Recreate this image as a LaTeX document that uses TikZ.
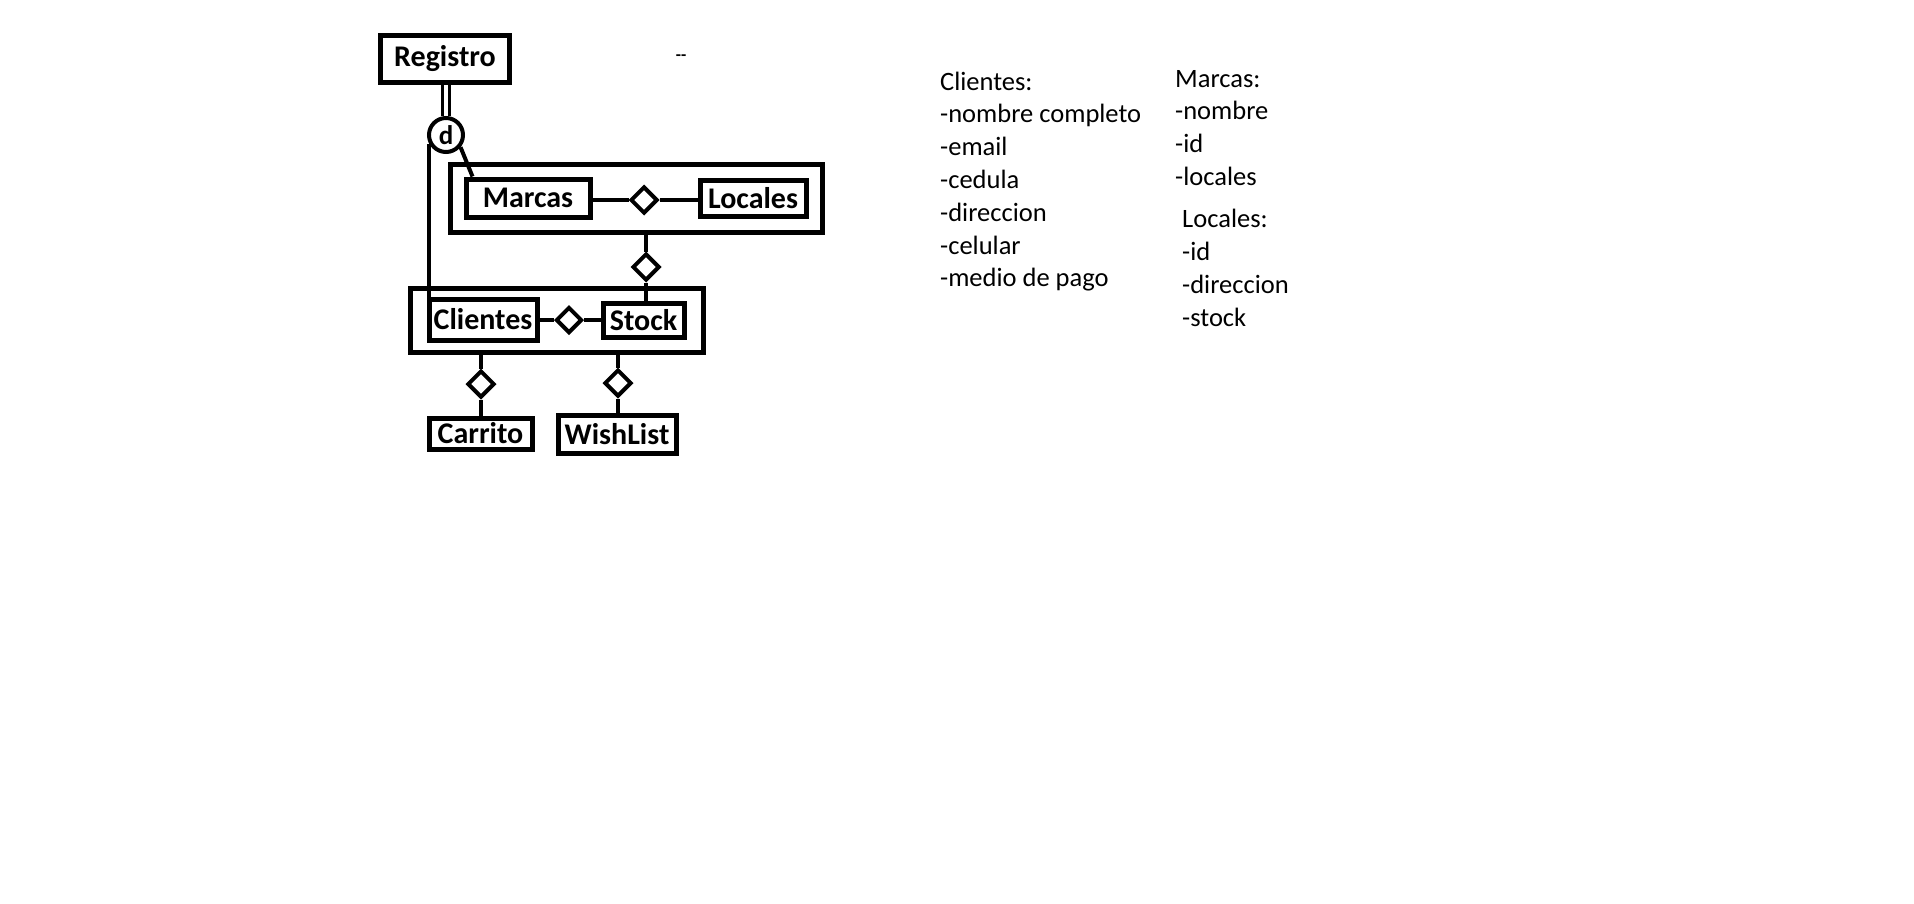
\documentclass[tikz,border=0pt]{standalone}
\usepackage{fontspec}
\setmainfont{Carlito}
\usetikzlibrary{shapes.geometric,calc}
\pgfdeclarelayer{bg}
\pgfdeclarelayer{paper}
\pgfsetlayers{paper,bg,main}
\begin{document}
\begin{tikzpicture}[x=1pt,y=-1pt,
 ent/.style={draw,line width=5pt,inner sep=0pt,font=\fontsize{30}{33}\selectfont\bfseries},
 agg/.style={draw,line width=5pt,inner sep=0pt},
 rel/.style={draw,diamond,line width=4pt,inner sep=0pt,minimum width=27pt,minimum height=27pt,fill=white},
 conn/.style={line width=4pt},
 attr/.style={anchor=base west,inner sep=0pt,font=\fontsize{26.5}{33}\selectfont}]
\useasboundingbox (0,0) rectangle (1914,903);
\begin{pgfonlayer}{paper}
\fill[white] (0,0) rectangle (1914,903);
\end{pgfonlayer}
\node[ent,minimum width=129pt,minimum height=47pt] (reg) at (445,59) {Registro};
\node[draw,circle,line width=4pt,minimum size=34pt,inner sep=0pt,font=\fontsize{27}{30}\selectfont\bfseries] (dc) at (446,135) {d};
\node[agg,minimum width=372pt,minimum height=68pt] (out1) at (636,198) {};
\node[ent,minimum width=124pt,minimum height=38pt] (mar) at (528,198) {Marcas};
\node[ent,minimum width=106pt,minimum height=36pt] (loc) at (753,198) {Locales};
\node[rel] (d1) at (644,200) {};
\node[rel] (d2) at (646,267) {};
\node[agg,minimum width=293pt,minimum height=64pt] (out2) at (556.5,320) {};
\node[ent,minimum width=108pt,minimum height=41pt] (cli) at (483,319.5) {Clientes};
\node[ent,minimum width=81pt,minimum height=34pt] (sto) at (643.5,320) {Stock};
\node[rel,minimum size=26pt] (d3) at (569,320) {};
\node[rel] (d4) at (481,384) {};
\node[rel] (d5) at (618,383) {};
\node[ent,minimum width=103pt,minimum height=31pt] (car) at (480.5,433.5) {Carrito};
\node[ent,minimum width=118pt,minimum height=38pt] (wis) at (617,434) {WishList};
\node[font=\fontsize{17}{18}\selectfont\bfseries,inner sep=0pt] (dash) at (681,58) {-{}-};
\begin{pgfonlayer}{bg}
\draw[double,double distance=4pt,line width=3pt] (dc.north |- reg.south) -- (dc.north);
\draw[conn] (dc.-152) -- (dc.-152 |- cli.north);
\draw[conn] (dc.-40) -- ($(mar.north west)+(9,0)$);
\draw[conn] (mar.east |- d1.west) -- (d1.west);
\draw[conn] (d1.east) -- (d1.east -| loc.west);
\draw[conn] (d2.north |- out1.south) -- (d2.north);
\draw[conn] (d2.south) -- (d2.south |- sto.north);
\draw[conn] (cli.east |- d3.west) -- (d3.west);
\draw[conn] (d3.east) -- (d3.east -| sto.west);
\draw[conn] (d4.north |- out2.south) -- (d4.north);
\draw[conn] (d4.south) -- (d4.south |- car.north);
\draw[conn] (d5.north |- out2.south) -- (d5.north);
\draw[conn] (d5.south) -- (d5.south |- wis.north);
\end{pgfonlayer}
\foreach \t [count=\i from 0] in {Clientes:,-nombre completo,-email,-cedula,-direccion,-celular,-medio de pago}
  \node[attr] (cl\i) at (940,90+32.8*\i) {\t};
\foreach \t [count=\i from 0] in {Marcas:,-nombre,-id,-locales}
  \node[attr] (ma\i) at (1175,87+32.7*\i) {\t};
\foreach \t [count=\i from 0] in {Locales:,-id,-direccion,-stock}
  \node[attr] (lo\i) at (1182,227+33*\i) {\t};
\end{tikzpicture}
\end{document}
